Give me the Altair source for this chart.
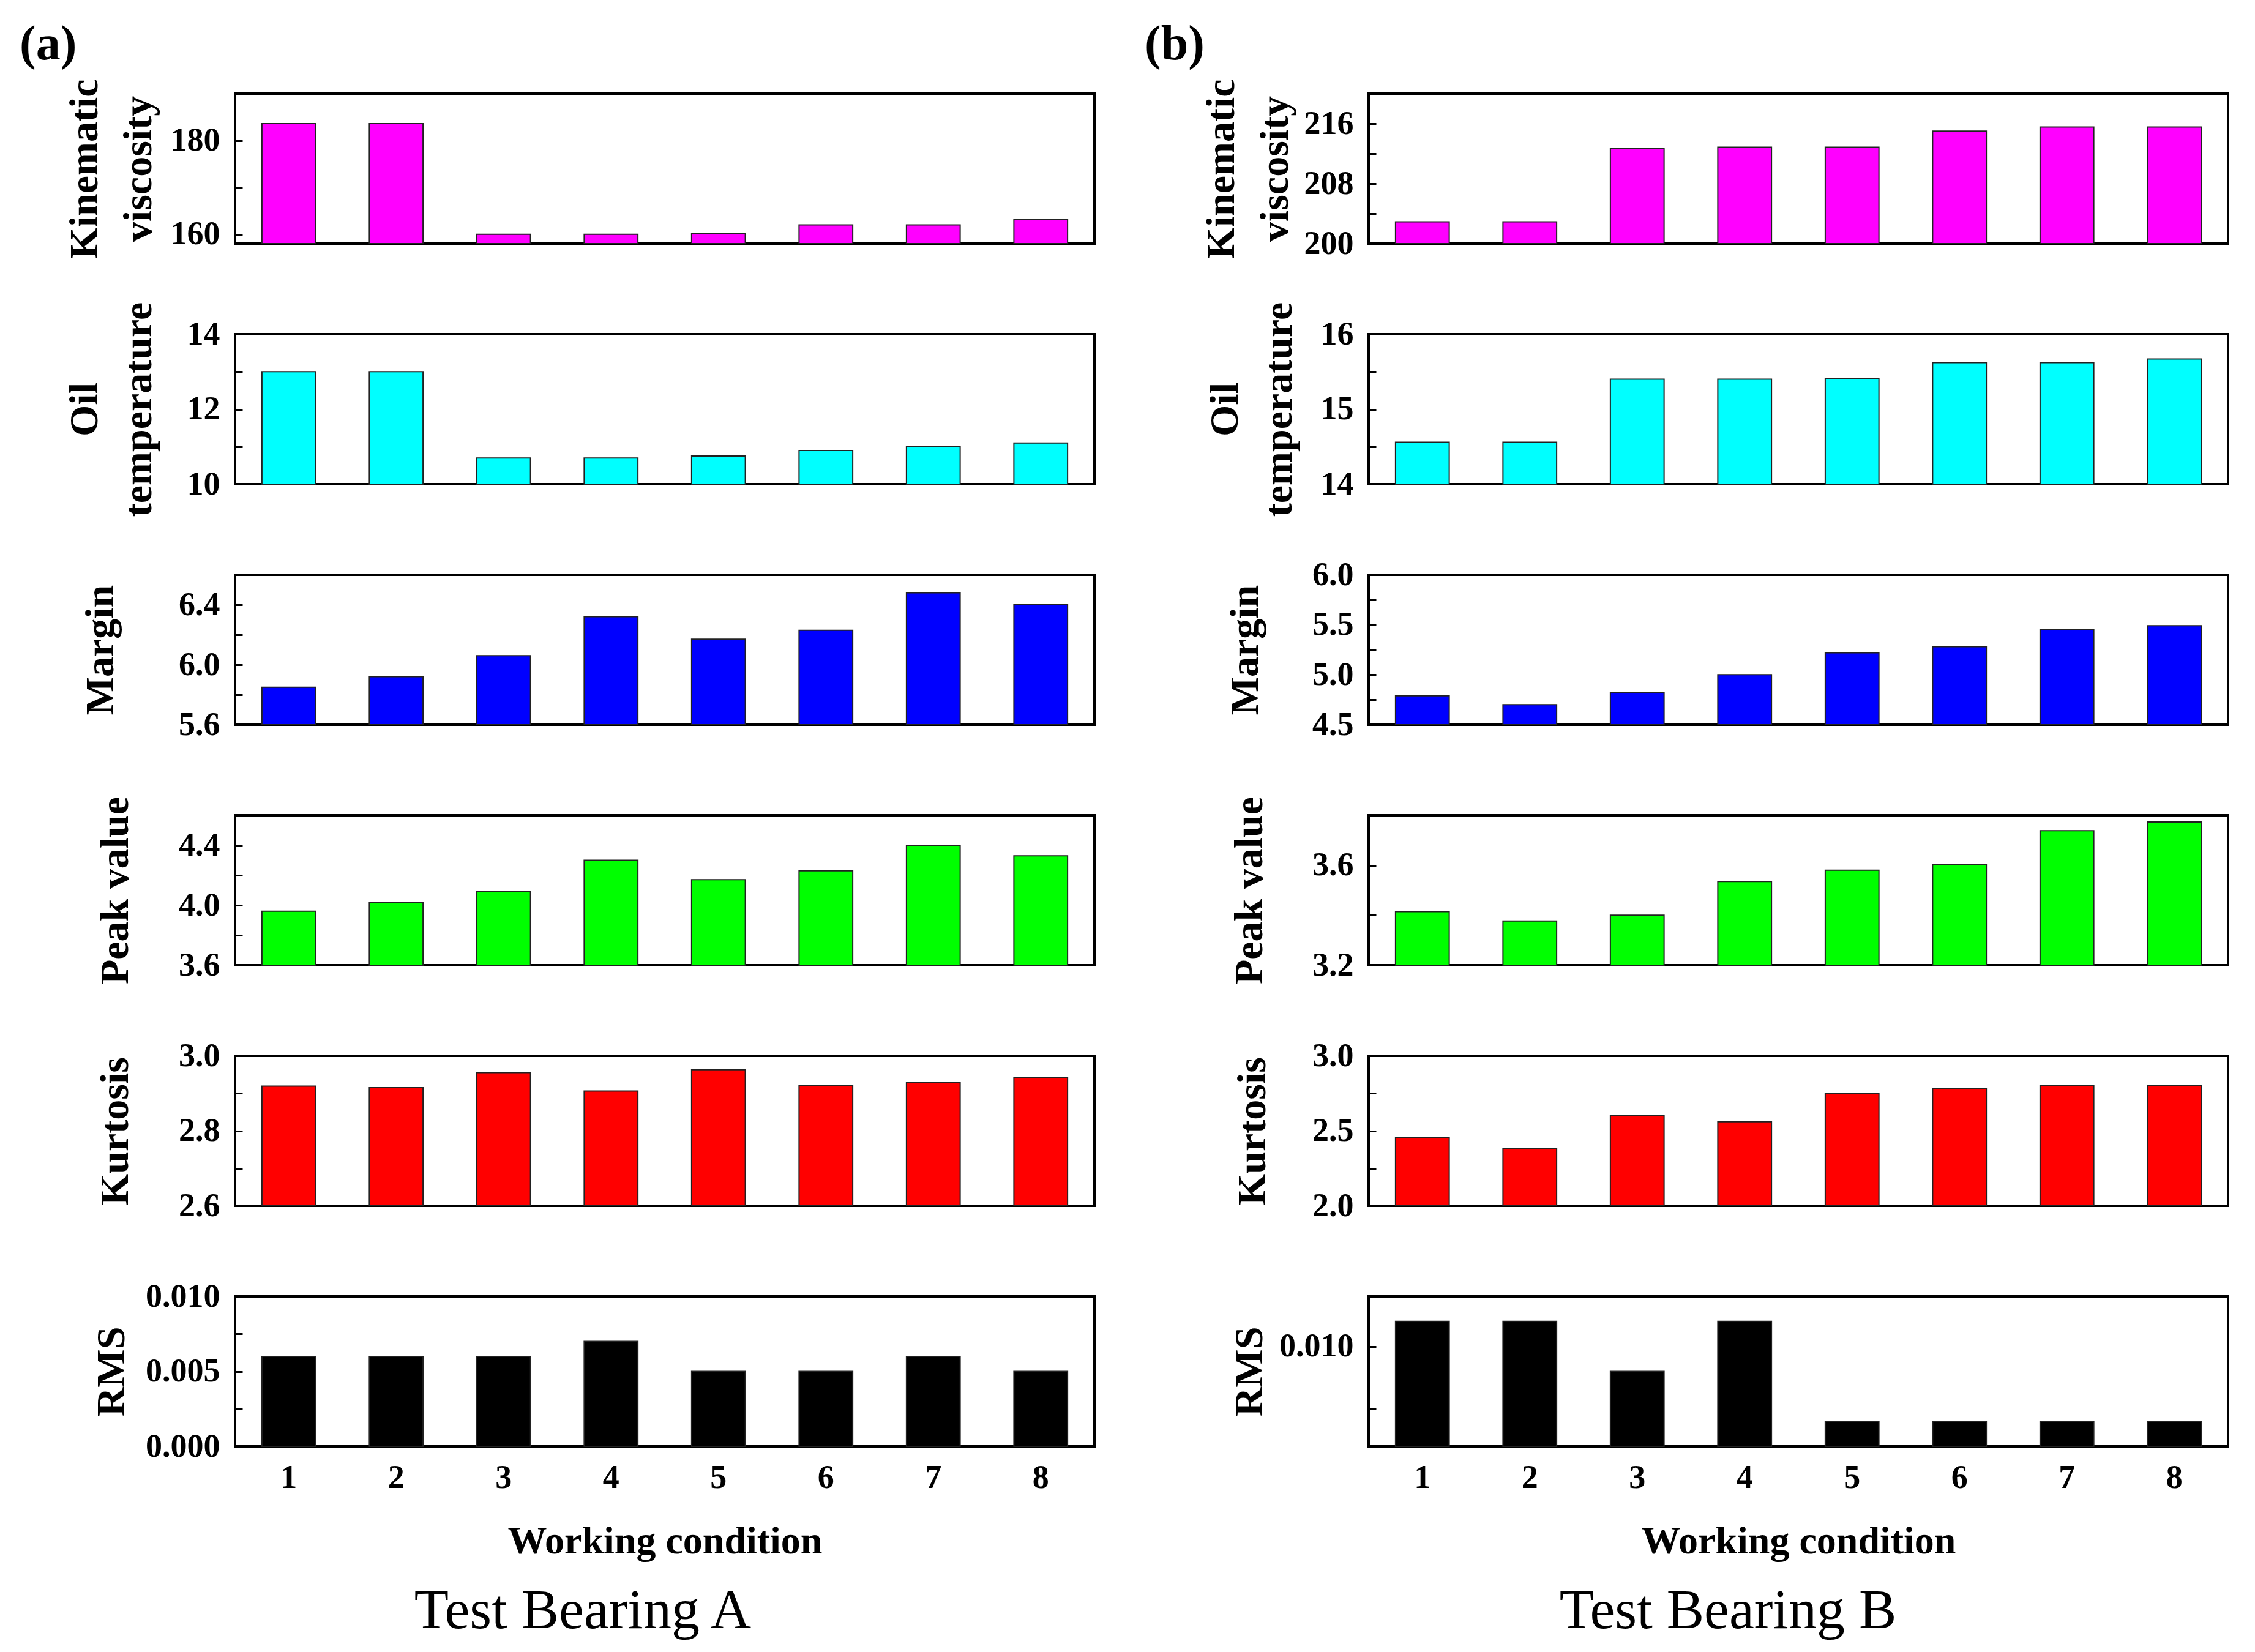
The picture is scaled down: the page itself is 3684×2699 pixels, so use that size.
import altair as alt
import pandas as pd

conditions = [1, 2, 3, 4, 5, 6, 7, 8]

# Test Bearing A
a_visc = [183.6, 183.6, 160.0, 160.0, 160.2, 162.0, 162.0, 163.2]
a_temp = [13.0, 13.0, 10.7, 10.7, 10.75, 10.9, 11.0, 11.1]
a_margin = [5.85, 5.92, 6.06, 6.32, 6.17, 6.23, 6.48, 6.40]
a_peak = [3.96, 4.02, 4.09, 4.30, 4.17, 4.23, 4.40, 4.33]
a_kurt = [2.919, 2.915, 2.955, 2.906, 2.963, 2.920, 2.928, 2.943]
a_rms = [0.006, 0.006, 0.006, 0.007, 0.005, 0.005, 0.006, 0.005]

# Test Bearing B
b_visc = [202.9, 202.9, 212.7, 212.85, 212.85, 215.0, 215.55, 215.55]
b_temp = [14.56, 14.56, 15.40, 15.40, 15.41, 15.62, 15.62, 15.67]
b_margin = [4.79, 4.70, 4.82, 5.00, 5.22, 5.28, 5.45, 5.49]
b_peak = [3.414, 3.377, 3.40, 3.535, 3.58, 3.604, 3.738, 3.773]
b_kurt = [2.455, 2.38, 2.60, 2.56, 2.75, 2.78, 2.80, 2.80]
b_rms = [0.011, 0.011, 0.009, 0.011, 0.007, 0.007, 0.007, 0.007]

titles = [["Kinematic", "viscosity"], ["Oil", "temperature"], "Margin",
          "Peak value", "Kurtosis", "RMS"]
colors = ["#FF00FF", "#00FFFF", "#0000FF", "#00FF00", "#FF0000", "#000000"]

a_domains = [[158, 190], [10, 14], [5.6, 6.6], [3.6, 4.6], [2.6, 3.0], [0, 0.010]]
b_domains = [[200, 220], [14, 16], [4.5, 6.0], [3.2, 3.8], [2.0, 3.0], [0.006, 0.012]]

a_ticks = [[160, 170, 180], [10, 11, 12, 13, 14], [5.6, 5.8, 6.0, 6.2, 6.4],
           [3.6, 3.8, 4.0, 4.2, 4.4], [2.6, 2.7, 2.8, 2.9, 3.0],
           [0, 0.0025, 0.005, 0.0075, 0.010]]
b_ticks = [[200, 204, 208, 212, 216], [14, 14.5, 15, 15.5, 16],
           [4.5, 4.75, 5.0, 5.25, 5.5, 5.75, 6.0], [3.2, 3.4, 3.6],
           [2.0, 2.25, 2.5, 2.75, 3.0], [0.0075, 0.010]]

a_major = [20, 2, 0.4, 0.4, 0.2, 0.005]
b_major = [8, 1, 0.5, 0.4, 0.5, 0.005]
formats = ["d", "d", ".1f", ".1f", ".1f", ".3f"]

a_title_x = [-226, -226, -200, -176, -176, -182]
b_title_x = [-221, -215, -182, -175, -170, -175]

FONT = "Liberation Serif"
W, H = 1404, 245


def make_panel(values, title, domain, ticks, major, fmt, color, title_x,
               show_x=False, head=None, head_dx=0):
    df = pd.DataFrame({"cond": conditions, "val": values})
    label_expr = (f"abs(datum.value/{major} - round(datum.value/{major})) < 1e-6"
                  f" ? format(datum.value, '{fmt}') : ''")
    yaxis = alt.Axis(values=ticks, labelExpr=label_expr, title=title,
                     titleX=title_x, titleBaseline="alphabetic", titleAngle=270,
                     titleFontSize=66, titleFontWeight="bold", titleLineHeight=88,
                     titleFont=FONT, titleColor="black",
                     labelFont=FONT, labelFontSize=54, labelFontWeight="bold",
                     labelColor="black", labelPadding=37,
                     tickSize={"expr": "-12"}, tickWidth=3, tickColor="black",
                     domain=False, grid=False)
    if show_x:
        xaxis = alt.Axis(title="Working condition", labelAngle=0, ticks=False,
                         domain=False, labelFont=FONT, labelFontSize=54,
                         labelFontWeight="bold", labelColor="black", labelPadding=24,
                         titleFont=FONT, titleFontSize=64, titleFontWeight="bold",
                         titleColor="black", titlePadding=45)
    else:
        xaxis = None
    ch = alt.Chart(df).mark_bar(color=color, stroke="#222222", strokeWidth=2).encode(
        x=alt.X("cond:O", scale=alt.Scale(paddingInner=0.5, paddingOuter=0.25),
                axis=xaxis),
        y=alt.Y("val:Q", scale=alt.Scale(domain=domain, zero=False, nice=False),
                axis=yaxis),
        y2=alt.datum(domain[0]),
    )
    props = dict(width=W, height=H)
    if head is not None:
        props["title"] = alt.TitleParams(head, anchor="start", frame="group",
                                         dx=head_dx, fontSize=80, fontWeight="bold",
                                         font=FONT, color="black",
                                         baseline="alphabetic", offset=-48)
    return ch.properties(**props)


a_vals = [a_visc, a_temp, a_margin, a_peak, a_kurt, a_rms]
b_vals = [b_visc, b_temp, b_margin, b_peak, b_kurt, b_rms]

col_a_panels = []
col_b_panels = []
for i in range(6):
    col_a_panels.append(make_panel(
        a_vals[i], titles[i], a_domains[i], a_ticks[i], a_major[i], formats[i],
        colors[i], a_title_x[i], show_x=(i == 5),
        head="(a)" if i == 0 else None, head_dx=-352))
    col_b_panels.append(make_panel(
        b_vals[i], titles[i], b_domains[i], b_ticks[i], b_major[i], formats[i],
        colors[i], b_title_x[i], show_x=(i == 5),
        head="(b)" if i == 0 else None, head_dx=-366))

col_a = alt.vconcat(*col_a_panels, spacing=148, bounds="flush",
                    title=alt.TitleParams("Test Bearing A", orient="bottom",
                                          anchor="middle", fontSize=92, dx=42,
                                          fontWeight="normal", font=FONT,
                                          color="black", baseline="top", offset=35))
col_b = alt.vconcat(*col_b_panels, spacing=148, bounds="flush",
                    title=alt.TitleParams("Test Bearing B", orient="bottom",
                                          anchor="middle", fontSize=92, dx=68,
                                          fontWeight="normal", font=FONT,
                                          color="black", baseline="top", offset=35))

chart = alt.hconcat(col_a, col_b, spacing=78).properties(
    padding={"left": 22, "top": 22, "right": 5, "bottom": 5}
).configure(font=FONT).configure_view(stroke="black", strokeWidth=4)

chart.save("out.html", embed_options={"renderer": "svg", "actions": False})
